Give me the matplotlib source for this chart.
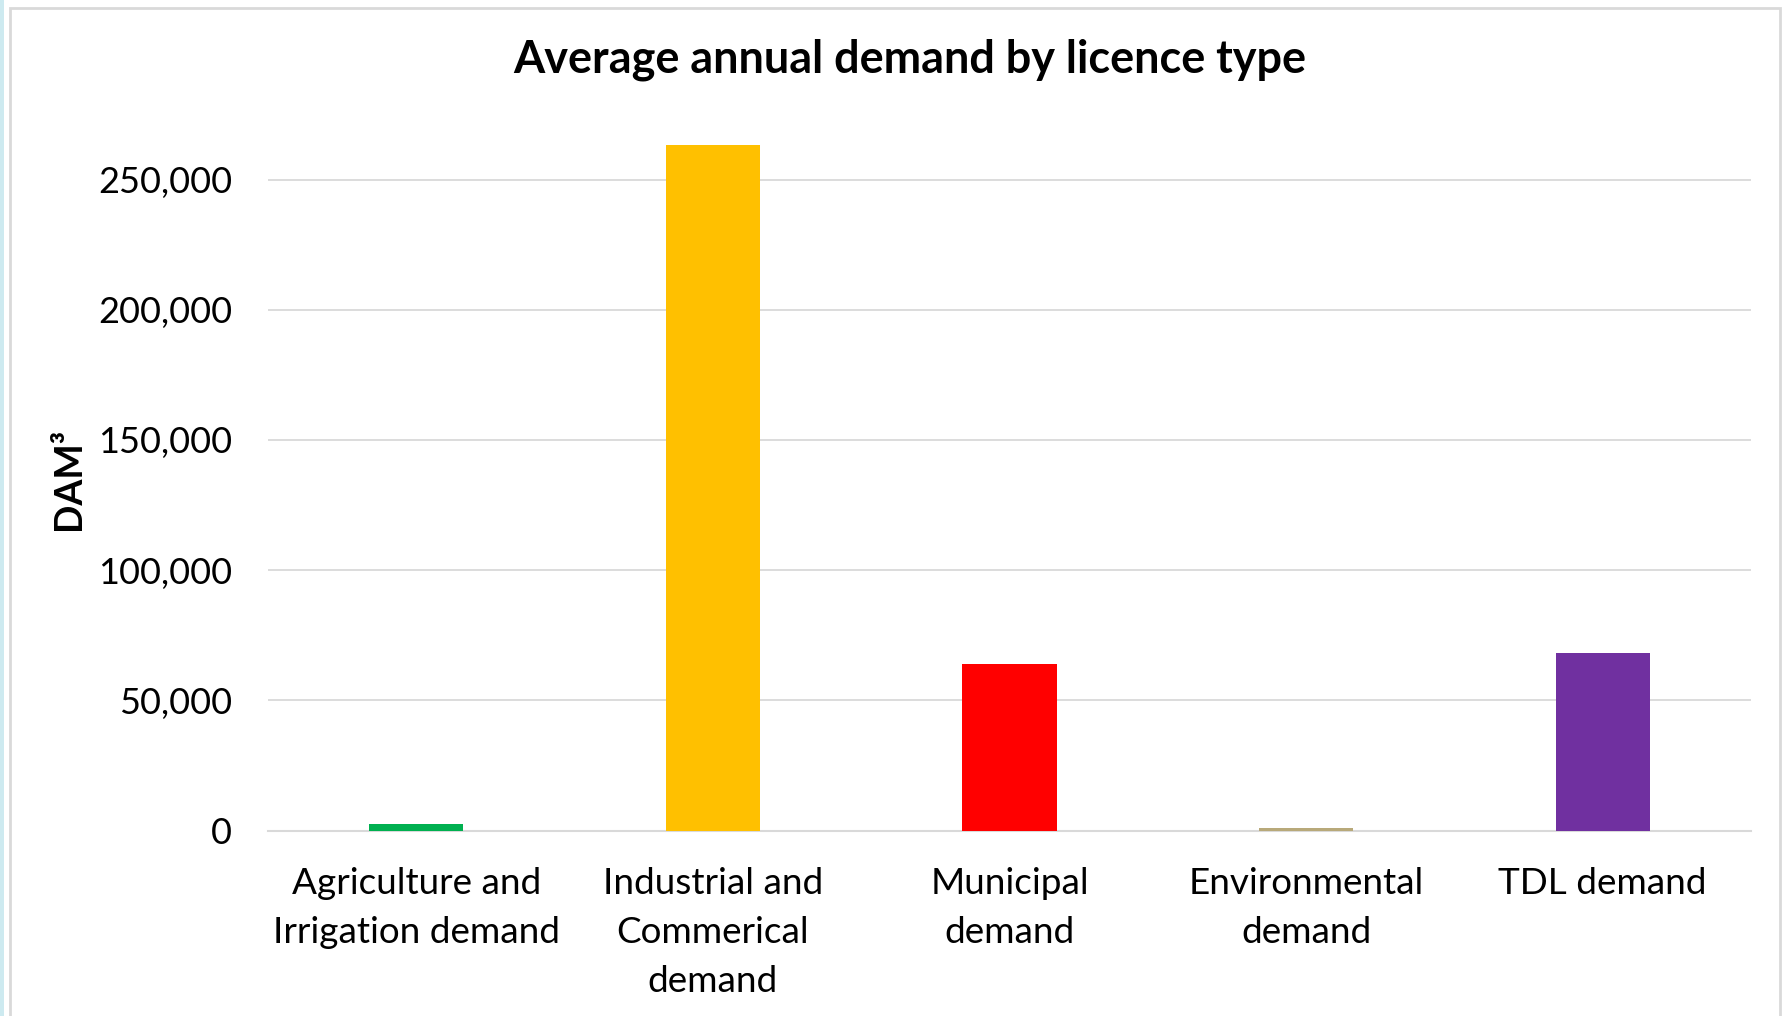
import matplotlib
matplotlib.use("Agg")
import matplotlib.pyplot as plt
from matplotlib.patches import Rectangle
from matplotlib.ticker import FuncFormatter

categories = [
    "Agriculture and\nIrrigation demand",
    "Industrial and\nCommerical\ndemand",
    "Municipal\ndemand",
    "Environmental\ndemand",
    "TDL demand",
]
demand = [2500, 263300, 64000, 1000, 68300]
colors = ["#00b050", "#ffc000", "#ff0000", "#b8a97a", "#7030a0"]
yticks = [0, 50000, 100000, 150000, 200000, 250000]

plt.rcParams["font.family"] = ["Lato", "DejaVu Sans"]

fig = plt.figure(figsize=(17.83, 10.16), dpi=100)
fig.patch.set_facecolor("white")

# outer chart frame and left accent strip
fig.add_artist(Rectangle((0, 0), 4 / 1783, 1, transform=fig.transFigure,
                         facecolor="#cdeaf0", edgecolor="none"))
fig.add_artist(Rectangle((10 / 1783, -0.01), (1780 - 10) / 1783, 1.01 - 8 / 1016,
                         transform=fig.transFigure, facecolor="none",
                         edgecolor="#d9d9d9", linewidth=2))

ax = fig.add_axes([268 / 1783, 1 - 830.5 / 1016, (1751 - 268) / 1783, (830.5 - 127.6) / 1016])
x = list(range(len(categories)))
ax.bar(x, demand, width=0.317, color=colors, zorder=3)
ax.set_xlim(-0.5, len(categories) - 0.5)
ax.set_ylim(0, 270000)
ax.set_yticks(yticks)
ax.yaxis.set_major_formatter(FuncFormatter(lambda v, p: f"{int(v):,}"))
ax.grid(axis="y", color="#d9d9d9", linewidth=1.3, zorder=0)
for s in ["top", "right", "left"]:
    ax.spines[s].set_visible(False)
ax.spines["bottom"].set_color("#d9d9d9")
ax.spines["bottom"].set_linewidth(1.5)
ax.tick_params(axis="y", length=0, labelsize=26, colors="black", pad=26)
ax.tick_params(axis="x", length=0, labelsize=26.6, colors="black", pad=26)
ax.set_xticks(x)
ax.set_xticklabels(categories, linespacing=1.6, va="top")
ax.set_ylabel("DAM³", fontsize=27, fontweight="bold")
ax.yaxis.set_label_coords(-0.123, 0.5)

fig.text(910 / 1783, 1 - 60 / 1016, "Average annual demand by licence type",
         ha="center", va="center", fontsize=32.4, fontweight="bold")

fig.savefig("out.png", dpi=100)
